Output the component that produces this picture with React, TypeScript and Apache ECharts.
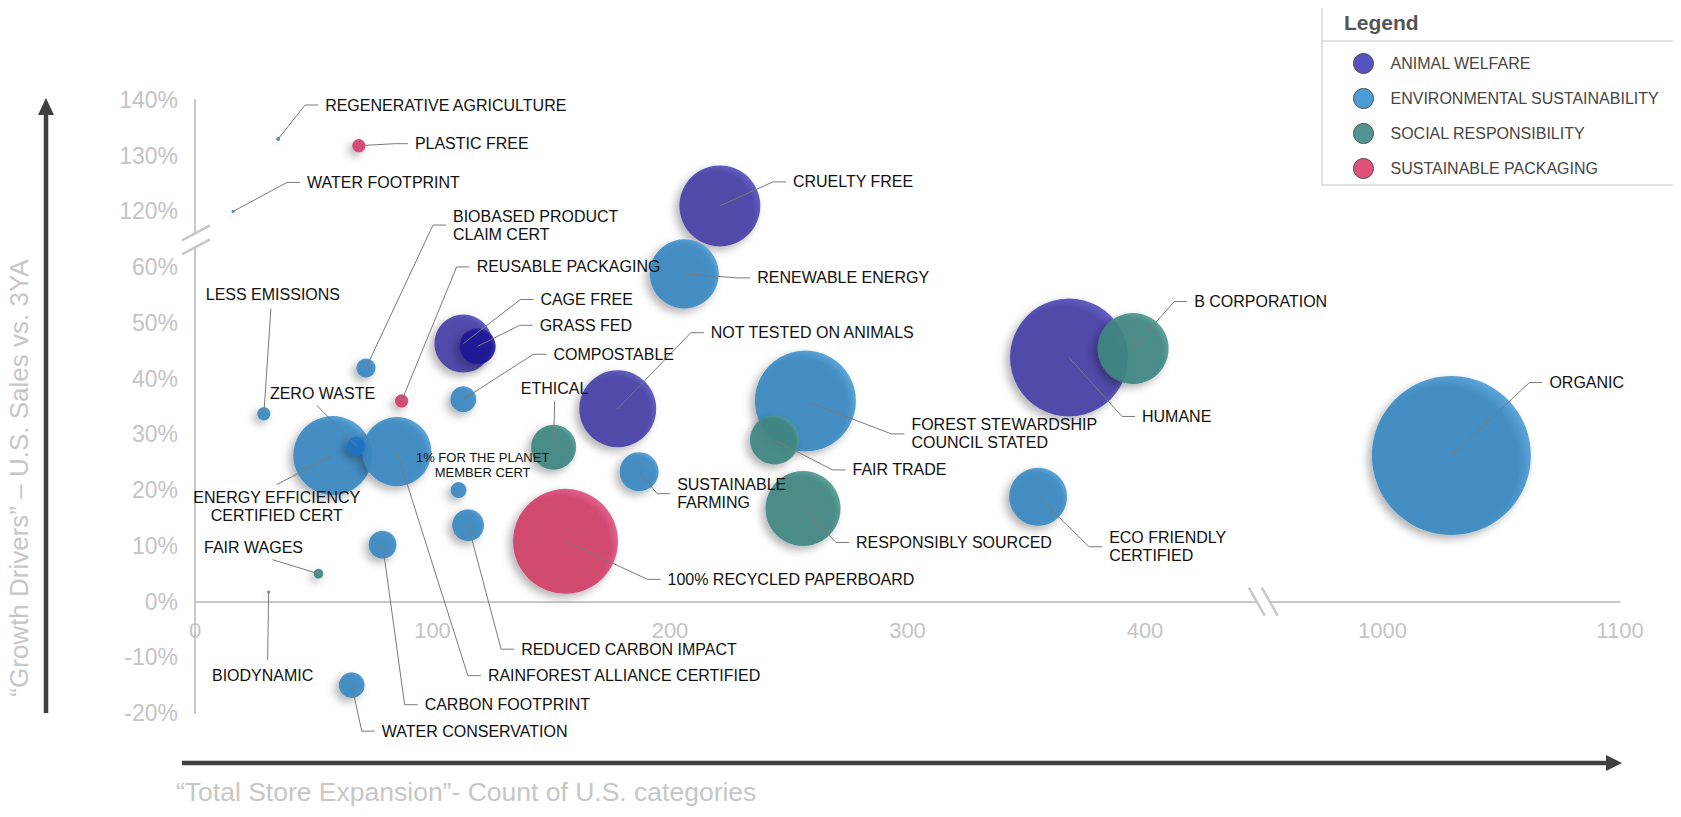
import React, { useEffect, useRef } from "react";
import * as echarts from "echarts";

// ---------------- DATA ----------------
const CATEGORIES = [
  "ANIMAL WELFARE",
  "ENVIRONMENTAL SUSTAINABILITY",
  "SOCIAL RESPONSIBILITY",
  "SUSTAINABLE PACKAGING",
];

// x = count of U.S. categories, y = % growth vs 3YA, size = bubble weight
const animalNames = ["CRUELTY FREE", "CAGE FREE", "GRASS FED", "NOT TESTED ON ANIMALS", "HUMANE"];
const animalX = [221, 113, 119, 178, 368];
const animalY = [121, 46.3, 45.8, 34.6, 43.8];
const animalSize = [410, 210, 81, 370, 870];

const envNames = [
  "REGENERATIVE AGRICULTURE",
  "WATER FOOTPRINT",
  "RENEWABLE ENERGY",
  "BIOBASED PRODUCT CLAIM CERT",
  "COMPOSTABLE",
  "LESS EMISSIONS",
  "ENERGY EFFICIENCY CERTIFIED CERT",
  "RAINFOREST ALLIANCE CERTIFIED",
  "ZERO WASTE",
  "1% FOR THE PLANET MEMBER CERT",
  "SUSTAINABLE FARMING",
  "CARBON FOOTPRINT",
  "REDUCED CARBON IMPACT",
  "WATER CONSERVATION",
  "BIODYNAMIC",
  "FOREST STEWARDSHIP COUNCIL STATED",
  "ECO FRIENDLY CERTIFIED",
  "ORGANIC",
];
const envX = [35, 16, 206, 72, 113, 29, 58, 85, 68, 111, 187, 79, 115, 66, 31, 257, 355, 1029];
const envY = [133, 120, 58.8, 41.9, 36.3, 33.7, 26.2, 26.9, 27.9, 20, 23.3, 10.2, 13.7, -15, 1.7, 36, 18.8, 26.2];
const envSize = [1, 0.6, 298, 23, 42, 11, 390, 298, 23, 16, 95, 49, 64, 42, 0.6, 638, 210, 1580];

const socialNames = ["ETHICAL", "FAIR WAGES", "FAIR TRADE", "RESPONSIBLY SOURCED", "B CORPORATION"];
const socialX = [151, 52, 244, 256, 395];
const socialY = [27.7, 5, 29, 16.7, 45.4];
const socialSize = [127, 6, 150, 352, 315];

const packNames = ["PLASTIC FREE", "REUSABLE PACKAGING", "100% RECYCLED PAPERBOARD"];
const packX = [69, 87, 156];
const packY = [131.8, 36, 10.8];
const packSize = [11, 11, 689];

// axis breaks: x values >= 1000 are drawn 500 units to the left, y values >= 120% are drawn 50 points lower
const X_BREAK_AT = 1000;
const X_GAP = 500;
const Y_BREAK_AT = 120;
const Y_GAP = 50;
const X_MAX_DRAWN = 600;
const Y_MIN = -20;
const Y_MAX_DRAWN = 90;

// ---------------- STYLES / LAYOUT ----------------
const FONT = "'Liberation Sans', Arial, Helvetica, sans-serif";
const BASE_COLORS = ["#4741a6", "#3a88c1", "#3f8681", "#d03f6a"];
const LIGHT_COLORS = ["#5c58c4", "#55a4dc", "#58a19b", "#e45c84"];
const LEGEND_COLORS = ["#5652c0", "#4b9bd5", "#4f9591", "#e0517b"];
const SPECIAL: Record<string, [string, string]> = {
  "GRASS FED": ["#1d1996", "#2c28b0"],
  "ZERO WASTE": ["#1f73c4", "#2f88d6"],
};

const GRID = { left: 195, right: 61, top: 100, bottom: 104 };
const CHART_H = 817;

type Lab = { k: "h" | "s" | "n"; dx: number; dy: number; ex?: number; ey?: number; text?: string; small?: boolean };
const LABELS: Record<string, Lab> = {
  "REGENERATIVE AGRICULTURE": { k: "h", dx: 47, dy: -34 },
  "PLASTIC FREE": { k: "h", dx: 56, dy: -2 },
  "WATER FOOTPRINT": { k: "h", dx: 74, dy: -29 },
  "CRUELTY FREE": { k: "h", dx: 73, dy: -24 },
  "RENEWABLE ENERGY": { k: "h", dx: 73, dy: 4 },
  "BIOBASED PRODUCT CLAIM CERT": { k: "h", dx: 87, dy: -143, text: "BIOBASED PRODUCT\nCLAIM CERT" },
  "REUSABLE PACKAGING": { k: "h", dx: 75, dy: -134 },
  "CAGE FREE": { k: "h", dx: 77, dy: -44 },
  "GRASS FED": { k: "h", dx: 62, dy: -21 },
  "COMPOSTABLE": { k: "h", dx: 90, dy: -45 },
  "LESS EMISSIONS": { k: "s", dx: 9, dy: -119, ex: 7, ey: -105 },
  "ZERO WASTE": { k: "s", dx: -34, dy: -53, ex: -40, ey: -41 },
  "ENERGY EFFICIENCY CERTIFIED CERT": { k: "s", dx: -56, dy: 51, ex: -56, ey: 29, text: "ENERGY EFFICIENCY\nCERTIFIED CERT" },
  "RAINFOREST ALLIANCE CERTIFIED": { k: "h", dx: 91, dy: 224 },
  "1% FOR THE PLANET MEMBER CERT": { k: "n", dx: 24, dy: -25, text: "1% FOR THE PLANET\nMEMBER CERT", small: true },
  "ETHICAL": { k: "s", dx: 1, dy: -59, ex: 1, ey: -46 },
  "NOT TESTED ON ANIMALS": { k: "h", dx: 93, dy: -76 },
  "SUSTAINABLE FARMING": { k: "h", dx: 38, dy: 22, text: "SUSTAINABLE\nFARMING" },
  "CARBON FOOTPRINT": { k: "h", dx: 42, dy: 160 },
  "REDUCED CARBON IMPACT": { k: "h", dx: 53, dy: 124 },
  "WATER CONSERVATION": { k: "h", dx: 30, dy: 46 },
  "BIODYNAMIC": { k: "s", dx: -6, dy: 83, ex: -1, ey: 68 },
  "FAIR WAGES": { k: "s", dx: -65, dy: -26, ex: -46, ey: -14 },
  "100% RECYCLED PAPERBOARD": { k: "h", dx: 102, dy: 38 },
  "FOREST STEWARDSHIP COUNCIL STATED": { k: "h", dx: 106, dy: 33, text: "FOREST STEWARDSHIP\nCOUNCIL STATED" },
  "FAIR TRADE": { k: "h", dx: 78, dy: 30 },
  "RESPONSIBLY SOURCED": { k: "h", dx: 53, dy: 34 },
  "ECO FRIENDLY CERTIFIED": { k: "h", dx: 71, dy: 50, text: "ECO FRIENDLY\nCERTIFIED" },
  "HUMANE": { k: "h", dx: 73, dy: 59 },
  "B CORPORATION": { k: "h", dx: 61, dy: -47 },
  "ORGANIC": { k: "h", dx: 98, dy: -73 },
};

const toDrawnX = (v: number) => (v >= X_BREAK_AT ? v - X_GAP : v);
const toDrawnY = (v: number) => (v >= Y_BREAK_AT ? v - Y_GAP : v);

const grad = (c: string, l: string) => ({
  type: "radial",
  x: 0.44,
  y: 0.55,
  r: 0.6,
  colorStops: [
    { offset: 0, color: c },
    { offset: 0.8, color: c },
    { offset: 1, color: l },
  ],
});

const groups = [
  { names: animalNames, xs: animalX, ys: animalY, sizes: animalSize },
  { names: envNames, xs: envX, ys: envY, sizes: envSize },
  { names: socialNames, xs: socialX, ys: socialY, sizes: socialSize },
  { names: packNames, xs: packX, ys: packY, sizes: packSize },
];

export default function App() {
  const ref = useRef<HTMLDivElement>(null);
  useEffect(() => {
    if (!ref.current) return;
    const chart = echarts.init(ref.current, null, { renderer: "svg" });

    const series = groups.map((g, ci) => ({
      type: "scatter",
      name: CATEGORIES[ci],
      symbol: "circle",
      symbolSize: (val: number[]) => Math.max(3, Math.sqrt(val[2]) * 4),
      itemStyle: {
        color: grad(BASE_COLORS[ci], LIGHT_COLORS[ci]),
        opacity: 0.92,
        shadowBlur: 9,
        shadowColor: "rgba(0,0,0,0.32)",
        shadowOffsetX: -4,
        shadowOffsetY: 4,
      },
      emphasis: { disabled: true },
      data: g.names.map((n, i) => {
        const d: any = { name: n, value: [toDrawnX(g.xs[i]), toDrawnY(g.ys[i]), g.sizes[i]] };
        if (SPECIAL[n]) d.itemStyle = { color: grad(SPECIAL[n][0], SPECIAL[n][1]) };
        return d;
      }),
    }));

    // move the x axis (line + labels) up from the grid bottom to the 0% level
    const gridH = CHART_H - GRID.top - GRID.bottom;
    const zeroOffset = -(gridH * (0 - Y_MIN)) / (Y_MAX_DRAWN - Y_MIN);

    const labelColor = "#c4c4c4";
    chart.setOption({
      animation: false,
      backgroundColor: "#ffffff",
      grid: { ...GRID, containLabel: false },
      xAxis: {
        type: "value",
        min: 0,
        max: X_MAX_DRAWN,
        interval: 100,
        position: "bottom",
        offset: zeroOffset,
        splitLine: { show: false },
        axisTick: { show: false },
        axisLine: { show: true, onZero: false, lineStyle: { color: "#c8c8c8", width: 2 } },
        axisLabel: {
          color: labelColor,
          fontSize: 22,
          fontFamily: FONT,
          margin: 18,
          formatter: (v: number) => String(v > 400 ? v + X_GAP : v),
        },
      },
      yAxis: {
        type: "value",
        min: Y_MIN,
        max: Y_MAX_DRAWN,
        interval: 10,
        splitLine: { show: false },
        axisTick: { show: false },
        axisLine: { show: true, lineStyle: { color: "#c8c8c8", width: 2 } },
        axisLabel: {
          color: labelColor,
          fontSize: 23,
          fontFamily: FONT,
          margin: 17,
          formatter: (v: number) => (v > 60 ? v + Y_GAP : v) + "%",
        },
      },
      legend: {
        orient: "vertical",
        left: 1348,
        top: 48,
        itemWidth: 20,
        itemHeight: 20,
        itemGap: 14,
        icon: "circle",
        selectedMode: false,
        textStyle: { fontSize: 16, color: "#454545", fontFamily: FONT, padding: [0, 0, 0, 12] },
        data: CATEGORIES.map((c, i) => ({
          name: c,
          itemStyle: { color: LEGEND_COLORS[i], borderColor: "#555", borderWidth: 1, opacity: 1 },
        })),
      },
      series,
    });

    const P = (x: number, y: number) => chart.convertToPixel({ gridIndex: 0 } as any, [x, y]) as number[];
    const gfx: any[] = [];

    // legend frame
    gfx.push({ type: "rect", z: 0, shape: { x: 1322, y: 3, width: 360, height: 182 }, style: { fill: "#fff", stroke: "#d9d9d9", lineWidth: 1.5 } });
    gfx.push({ type: "line", z: 1, shape: { x1: 1322, y1: 41, x2: 1681, y2: 41 }, style: { stroke: "#d9d9d9", lineWidth: 1.5 } });
    gfx.push({
      type: "text", z: 1, x: 1344, y: 22,
      style: { text: "Legend", fill: "#555", fontSize: 21, fontWeight: "bold", fontFamily: FONT, align: "left", verticalAlign: "middle", textAlign: "left", textVerticalAlign: "middle" },
    });

    // axis break marks
    const yb = P(0, 65);
    gfx.push({ type: "polygon", z: 50, shape: { points: [[yb[0] - 13, yb[1] + 1], [yb[0] + 15, yb[1] - 14], [yb[0] + 15, yb[1]], [yb[0] - 13, yb[1] + 15]] }, style: { fill: "#fff" } });
    gfx.push({ type: "line", z: 51, shape: { x1: yb[0] - 13, y1: yb[1] + 1, x2: yb[0] + 15, y2: yb[1] - 14 }, style: { stroke: "#c8c8c8", lineWidth: 2.5 } });
    gfx.push({ type: "line", z: 51, shape: { x1: yb[0] - 13, y1: yb[1] + 15, x2: yb[0] + 15, y2: yb[1] }, style: { stroke: "#c8c8c8", lineWidth: 2.5 } });
    const xb = P(450, 0);
    gfx.push({ type: "polygon", z: 50, shape: { points: [[xb[0] - 15, xb[1] - 14], [xb[0] - 2, xb[1] - 14], [xb[0] + 14, xb[1] + 14], [xb[0] + 1, xb[1] + 14]] }, style: { fill: "#fff" } });
    gfx.push({ type: "line", z: 51, shape: { x1: xb[0] - 15, y1: xb[1] - 14, x2: xb[0] + 1, y2: xb[1] + 14 }, style: { stroke: "#c8c8c8", lineWidth: 2.5 } });
    gfx.push({ type: "line", z: 51, shape: { x1: xb[0] - 2, y1: xb[1] - 14, x2: xb[0] + 14, y2: xb[1] + 14 }, style: { stroke: "#c8c8c8", lineWidth: 2.5 } });

    // outer arrows
    const bl = P(0, Y_MIN);
    const tr = P(X_MAX_DRAWN, Y_MAX_DRAWN);
    const ax = bl[0] - 149;
    gfx.push({ type: "line", z: 5, shape: { x1: ax, y1: bl[1], x2: ax, y2: tr[1] + 10 }, style: { stroke: "#404040", lineWidth: 4.5 } });
    gfx.push({ type: "polygon", z: 5, shape: { points: [[ax, tr[1] - 2], [ax - 8, tr[1] + 15], [ax + 8, tr[1] + 15]] }, style: { fill: "#404040" } });
    const ay = bl[1] + 50;
    gfx.push({ type: "line", z: 5, shape: { x1: bl[0] - 13, y1: ay, x2: tr[0] - 10, y2: ay }, style: { stroke: "#404040", lineWidth: 4.5 } });
    gfx.push({ type: "polygon", z: 5, shape: { points: [[tr[0] + 2, ay], [tr[0] - 14, ay - 8], [tr[0] - 14, ay + 8]] }, style: { fill: "#404040" } });

    // axis titles
    gfx.push({
      type: "text", z: 5, x: 19, y: 478, rotation: Math.PI / 2,
      style: { text: "\u201cGrowth Drivers\u201d \u2013 U.S. Sales vs. 3YA", fill: "#c6c6c6", fontSize: 26, fontFamily: FONT, align: "center", verticalAlign: "middle", textAlign: "center", textVerticalAlign: "middle" },
    });
    gfx.push({
      type: "text", z: 5, x: 176, y: 792,
      style: { text: "\u201cTotal Store Expansion\u201d- Count of U.S. categories", fill: "#c6c6c6", fontSize: 26.5, fontFamily: FONT, align: "left", verticalAlign: "middle", textAlign: "left", textVerticalAlign: "middle" },
    });

    // bubble labels with leader lines
    groups.forEach((g) => {
      g.names.forEach((n, i) => {
        const lab = LABELS[n];
        if (!lab) return;
        const c = P(toDrawnX(g.xs[i]), toDrawnY(g.ys[i]));
        const text = lab.text || n;
        const tx = c[0] + lab.dx;
        const ty = c[1] + lab.dy;
        if (lab.k === "h") {
          gfx.push({
            type: "polyline", z: 60,
            shape: { points: [[c[0], c[1]], [tx - 20, ty], [tx - 7, ty]] },
            style: { stroke: "#7a7a7a", lineWidth: 1, fill: null },
          });
        } else if (lab.k === "s") {
          gfx.push({
            type: "line", z: 60,
            shape: { x1: c[0], y1: c[1], x2: c[0] + (lab.ex as number), y2: c[1] + (lab.ey as number) },
            style: { stroke: "#7a7a7a", lineWidth: 1 },
          });
        }
        const align = lab.k === "h" ? "left" : "center";
        gfx.push({
          type: "text", z: 61, x: tx, y: ty,
          style: {
            text,
            fill: "#111",
            fontSize: lab.small ? 13 : 16,
            lineHeight: lab.small ? 15 : 18,
            fontFamily: FONT,
            align,
            verticalAlign: "middle",
            textAlign: align,
            textVerticalAlign: "middle",
          },
        });
      });
    });

    chart.setOption({ graphic: { elements: gfx } });

    return () => chart.dispose();
  }, []);
  return <div ref={ref} style={{ width: 1681, height: 817, margin: -8 }} />;
}
